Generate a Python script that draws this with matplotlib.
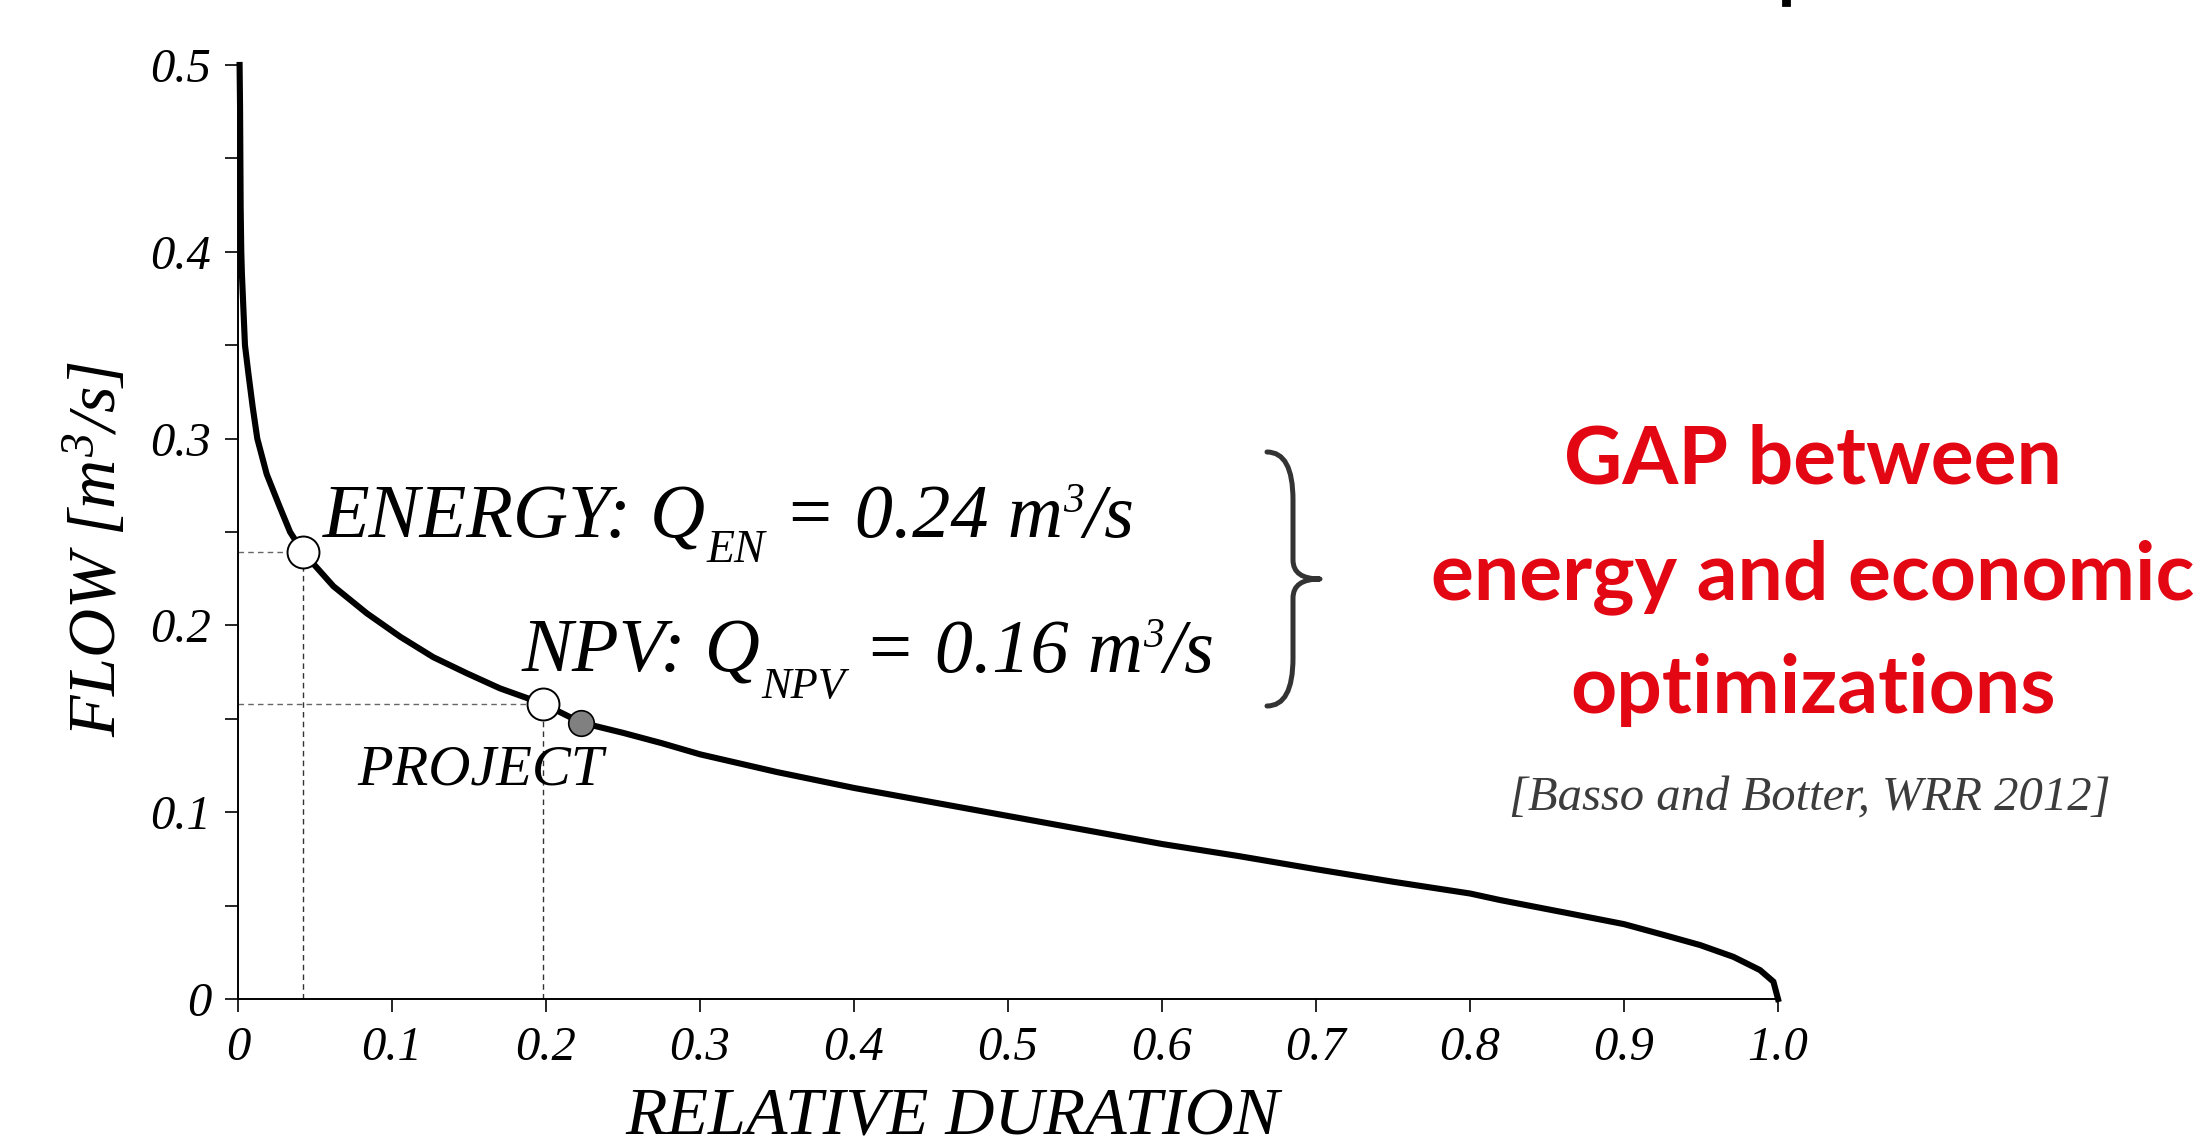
import numpy as np
import matplotlib
matplotlib.use('Agg')
import matplotlib.pyplot as plt
import matplotlib.transforms as mtransforms
from matplotlib.path import Path
from matplotlib.patches import PathPatch, Rectangle

SERIF = 'Liberation Serif'
RED = '#E30613'
CITE = '#3C3C3C'

plt.rcParams.update({
    'font.family': SERIF,
    'font.style': 'italic',
    'mathtext.fontset': 'custom',
    'mathtext.it': 'Liberation Serif:italic',
    'mathtext.rm': 'Liberation Serif:italic',
    'mathtext.default': 'it',
})

# ---- flow duration curve ----
duration = [0.0010, 0.0013, 0.0015, 0.0017, 0.0021, 0.0025, 0.0034, 0.0045,
            0.0067, 0.0095, 0.0125, 0.0186, 0.0268, 0.0338, 0.0424, 0.0619,
            0.0836, 0.1052, 0.1268, 0.1485, 0.1701, 0.1983, 0.2227, 0.2500,
            0.2750, 0.3000, 0.3500, 0.4000, 0.4500, 0.5000, 0.5500, 0.6000,
            0.6500, 0.7000, 0.7500, 0.8000, 0.8195, 0.8628, 0.9000, 0.9250,
            0.9494, 0.9710, 0.9883, 0.9970, 1.0000]
flow = [0.500, 0.478, 0.451, 0.424, 0.400, 0.3885, 0.371, 0.350,
        0.335, 0.317, 0.300, 0.281, 0.264, 0.250, 0.239, 0.221,
        0.2065, 0.194, 0.183, 0.1744, 0.1663, 0.158, 0.148, 0.1425,
        0.137, 0.131, 0.1215, 0.113, 0.1055, 0.098, 0.0905, 0.083,
        0.0765, 0.0695, 0.0628, 0.0565, 0.0530, 0.0461, 0.0401, 0.0345,
        0.0289, 0.0226, 0.0155, 0.0093, 0.0000]

energy_x, energy_q = 0.0424, 0.2394
npv_x, npv_q = 0.1983, 0.158
project_x, project_q = 0.2227, 0.1479

xticks = [0, 0.1, 0.2, 0.3, 0.4, 0.5, 0.6, 0.7, 0.8, 0.9, 1.0]
xticklabels = ['0', '0.1', '0.2', '0.3', '0.4', '0.5', '0.6', '0.7', '0.8', '0.9', '1.0']
yticks = [0, 0.1, 0.2, 0.3, 0.4, 0.5]
yticklabels = ['0', '0.1', '0.2', '0.3', '0.4', '0.5']
yminor = [0.05, 0.15, 0.25, 0.35, 0.45]

fig = plt.figure(figsize=(11, 5.72), dpi=200)
ax = fig.add_axes([0.1082, 0.1267, 0.70, 0.8165])

ax.plot(duration, flow, color='black', lw=2.2, clip_on=False, zorder=3,
        solid_joinstyle='round')

# guide lines
ax.plot([0, energy_x], [energy_q, energy_q], color='#666666', lw=0.5, ls=(0, (4, 3)), zorder=2)
ax.plot([energy_x, energy_x], [0, energy_q], color='#333333', lw=0.5, ls=(0, (4, 3)), zorder=2)
ax.plot([0, npv_x], [npv_q, npv_q], color='#666666', lw=0.5, ls=(0, (4, 3)), zorder=2)
ax.plot([npv_x, npv_x], [0, npv_q], color='#333333', lw=0.5, ls=(0, (4, 3)), zorder=2)

ax.plot([energy_x, npv_x], [energy_q, npv_q], ls='none', marker='o', ms=11.5,
        mfc='white', mec='black', mew=0.7, zorder=5, clip_on=False)
ax.plot([project_x], [project_q], ls='none', marker='o', ms=9.2,
        mfc='#808080', mec='black', mew=0.6, zorder=5, clip_on=False)

ax.set_xlim(0, 1.0)
ax.set_ylim(0, 0.5)
for s in ['top', 'right']:
    ax.spines[s].set_visible(False)
for s in ['left', 'bottom']:
    ax.spines[s].set_linewidth(0.7)
ax.set_xticks(xticks)
ax.set_xticklabels(xticklabels)
ax.set_yticks(yticks)
ax.set_yticklabels(yticklabels)
ax.set_yticks(yminor, minor=True)
ax.tick_params(which='both', direction='out', length=4.7, width=0.6, labelsize=17.5)
ax.tick_params(axis='y', pad=5)
ax.tick_params(axis='x', pad=5)

# axis labels
fig.text(952 / 2200, 1 - 1134 / 1144, 'RELATIVE DURATION', fontsize=24.5,
         ha='center', va='baseline')
fig.text(97 / 2200, 1 - 549 / 1144, r'$FLOW\ [m^{3}/s]$', fontsize=24.5,
         rotation=90, ha='center', va='center')

# chained annotations (baseline-aligned pieces with sub/superscripts)
renderer = fig.canvas.get_renderer()


def chain_text(x, y, pieces):
    xoff = 0.0
    for s, size, dy in pieces:
        tr = mtransforms.offset_copy(ax.transData, fig=fig, x=xoff, y=dy, units='points')
        t = ax.text(x, y, s, transform=tr, fontsize=size, ha='left', va='baseline')
        xoff += t.get_window_extent(renderer).width * 72.0 / fig.dpi


chain_text(0.0552, 0.2473, [('ENERGY: Q', 27.5, 0), ('EN', 16.5, -9),
                            (' = 0.24 m', 27.5, 0), ('3', 15, 9), ('/s', 27.5, 0)])
chain_text(0.1844, 0.1751, [('NPV: Q', 27.5, 0), ('NPV', 16, -9.5),
                            (' = 0.16 m', 27.5, 0), ('3', 15, 9), ('/s', 27.5, 0)])
ax.text(0.1577, 0.1146, 'PROJECT', fontsize=21, ha='center', va='baseline')

# curly brace
bx0, bx1, bx2 = 1267 / 2200, 1293 / 2200, 1320 / 2200
by = [1 - v / 1144 for v in (452, 500, 560, 579, 598, 658, 706)]
verts = [(bx0, by[0]), (bx1, by[0]), (bx1, by[1]),
         (bx1, by[2]),
         (bx1, by[3]), (bx2, by[3]),
         (bx1, by[3]), (bx1, by[4]),
         (bx1, by[5]),
         (bx1, by[6]), (bx0, by[6])]
codes = [Path.MOVETO, Path.CURVE3, Path.CURVE3, Path.LINETO,
         Path.CURVE3, Path.CURVE3, Path.CURVE3, Path.CURVE3,
         Path.LINETO, Path.CURVE3, Path.CURVE3]
fig.patches.append(PathPatch(Path(verts, codes), transform=fig.transFigure,
                             fill=False, edgecolor='#333333', lw=1.8,
                             capstyle='round', joinstyle='round'))

# red message
for txt, base in [('GAP between', 483), ('energy and economic', 599),
                  ('optimizations', 713)]:
    fig.text(1813 / 2200, 1 - base / 1144, txt, family='Lato', weight='bold',
             style='normal', fontsize=29, color=RED, ha='center', va='baseline')
fig.text(1810 / 2200, 1 - 810 / 1144, '[Basso and Botter, WRR 2012]',
         fontsize=17.5, color=CITE, ha='center', va='baseline')

# cut-off mark from the slide title above
fig.patches.append(Rectangle((1783 / 2200, 1 - 5 / 1144), 6 / 2200, 5 / 1144,
                             transform=fig.transFigure, color='black'))

fig.savefig('out.png', dpi=200)
